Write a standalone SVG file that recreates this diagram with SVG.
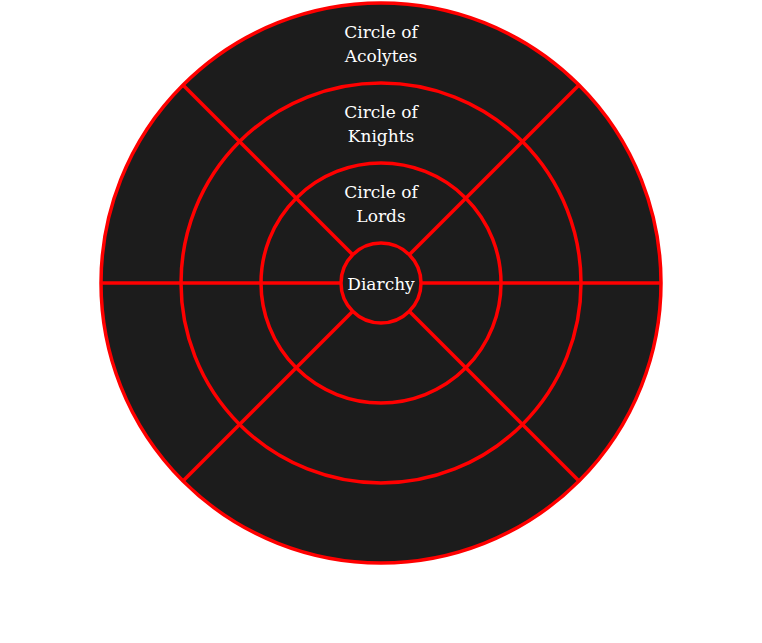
<svg xmlns="http://www.w3.org/2000/svg" width="762" height="643" viewBox="0 0 762 643">
<style>
.ring{fill:#1c1c1c;stroke:#ff0000;stroke-width:3.5}
.div{stroke:#ff0000;stroke-width:3.5;fill:none}
.lbl{font-family:"DejaVu Serif","Liberation Serif",serif;font-size:17px;fill:#ffffff;text-anchor:middle}
</style>
<rect width="762" height="643" fill="#ffffff"/>
<g id="acolytes">
<circle class="ring" cx="381" cy="283" r="280"/>
<text class="lbl" x="381" y="38">Circle of</text>
<text class="lbl" x="381" y="62">Acolytes</text>
</g>
<g id="knights">
<circle class="ring" cx="381" cy="283" r="200"/>
<text class="lbl" x="381" y="118">Circle of</text>
<text class="lbl" x="381" y="142">Knights</text>
</g>
<g id="lords">
<circle class="ring" cx="381" cy="283" r="120"/>
<text class="lbl" x="381" y="198">Circle of</text>
<text class="lbl" x="381" y="222">Lords</text>
</g>
<g id="connectors">
<line class="div" x1="101" y1="283" x2="341" y2="283"/>
<line class="div" x1="421" y1="283" x2="661" y2="283"/>
<line class="div" x1="183" y1="85" x2="353" y2="255"/>
<line class="div" x1="579" y1="85" x2="409" y2="255"/>
<line class="div" x1="183" y1="481" x2="353" y2="311"/>
<line class="div" x1="579" y1="481" x2="409" y2="311"/>
</g>
<g id="diarchy">
<circle class="ring" cx="381" cy="283" r="40"/>
<text class="lbl" x="381" y="290">Diarchy</text>
</g>
</svg>
